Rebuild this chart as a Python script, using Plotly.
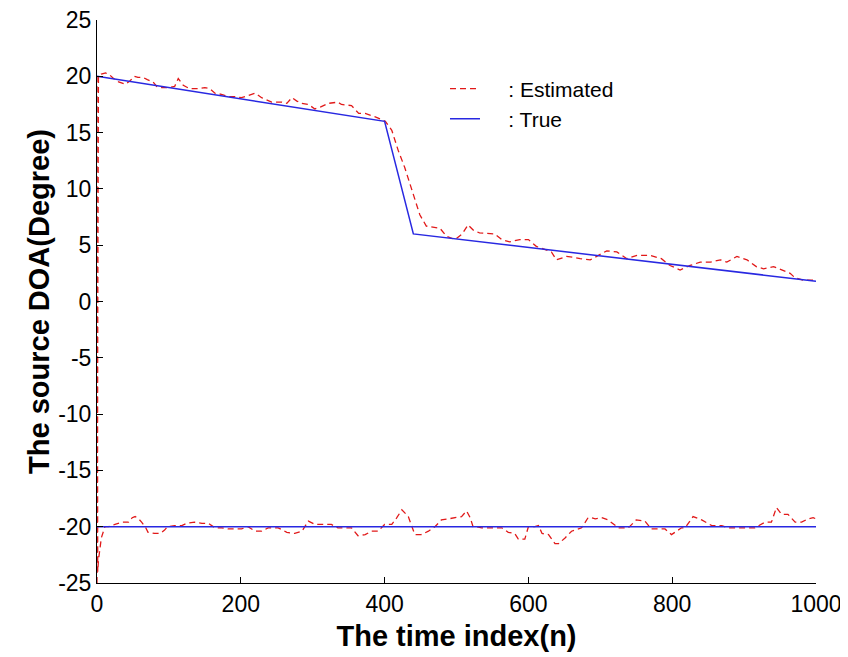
import plotly.graph_objects as go

# ---- data ----
est1_n = [0, 1, 2, 6, 12, 18, 23, 30, 40, 46, 52, 57, 64, 70, 78, 83, 90, 100, 108, 113,
          120, 129, 141, 150, 157, 164, 173, 183, 192, 201, 210, 220, 229, 243, 257, 264,
          271, 278, 285, 294, 303, 312, 322, 335, 340, 354, 364, 373, 387, 396, 401, 410,
          419, 428, 435, 442, 449, 458, 468, 477, 486, 498, 508, 516, 524, 532, 542, 553,
          563, 574, 588, 600, 611, 625, 632, 639, 653, 665, 672, 686, 697, 709, 723, 737,
          751, 769, 785, 797, 811, 825, 839, 853, 867, 876, 890, 904, 917, 927, 941, 952,
          964, 971, 982, 996, 1000]
est1_v = [-25, 17, 20, 20.2, 20.3, 20.1, 19.8, 19.5, 19.3, 19.6, 20.0, 19.9, 19.9, 19.7,
          19.5, 19.1, 19.0, 19.0, 19.1, 19.8, 19.2, 18.9, 18.9, 19.0, 18.9, 18.5, 18.4,
          18.2, 18.2, 18.1, 18.3, 18.5, 18.1, 17.7, 17.7, 17.6, 18.1, 17.8, 17.6, 17.5,
          17.1, 17.3, 17.6, 17.7, 17.5, 17.4, 16.7, 16.7, 16.4, 16.1, 16.0, 15.2, 13.4,
          11.9, 10.5, 9.0, 7.7, 6.7, 6.6, 6.5, 5.8, 5.5, 6.0, 6.8, 6.3, 6.1, 6.05, 6.0,
          5.5, 5.3, 5.5, 5.5, 4.9, 4.6, 4.4, 3.7, 4.0, 3.9, 3.8, 3.7, 4.1, 4.5, 4.4, 3.8,
          4.1, 4.1, 3.8, 3.2, 2.8, 3.2, 3.5, 3.5, 3.7, 3.5, 4.0, 3.7, 3.1, 2.9, 3.1, 2.8,
          2.5, 2.1, 1.9, 1.9, 1.8]

est2_n = [0, 1, 2, 4, 6, 11, 16, 25, 34, 44, 49, 53, 58, 62, 67, 71, 80, 88, 94, 98, 108,
          118, 125, 136, 146, 155, 164, 173, 183, 192, 201, 210, 220, 229, 238, 252, 264,
          275, 285, 294, 303, 315, 326, 335, 354, 363, 373, 382, 391, 400, 410, 417, 424,
          433, 442, 451, 461, 470, 479, 489, 498, 507, 514, 519, 523, 528, 535, 550, 563,
          572, 581, 586, 595, 600, 609, 614, 619, 628, 637, 642, 651, 660, 674, 683, 688,
          693, 702, 711, 725, 739, 750, 762, 771, 790, 799, 813, 818, 829, 841, 855, 869,
          878, 887, 901, 915, 929, 938, 945, 952, 961, 971, 980, 989, 996, 1000]
est2_v = [20, -24, -23, -22, -21, -20, -20, -19.8, -19.6, -19.6, -19.2, -19.1, -19.3,
          -19.6, -20.0, -20.5, -20.6, -20.6, -20.3, -20.0, -19.9, -19.9, -19.7, -19.6,
          -19.7, -19.7, -20.1, -20.1, -20.2, -20.2, -20.2, -20.0, -20.4, -20.4, -20.1,
          -20.1, -20.5, -20.6, -20.4, -19.5, -19.8, -19.8, -19.8, -20.1, -20.1, -20.8,
          -20.7, -20.4, -20.4, -19.8, -19.8, -19.2, -18.5, -19.1, -20.7, -20.7, -20.4,
          -20.0, -19.4, -19.3, -19.2, -19.1, -18.6, -19.2, -20.0, -20.0, -20.1, -20.1,
          -20.1, -20.5, -20.6, -21.1, -21.1, -20.0, -20.0, -19.9, -20.6, -20.7, -21.5,
          -21.5, -21.0, -20.4, -20.1, -19.2, -19.2, -19.3, -19.2, -19.4, -20.1, -20.1,
          -19.4, -19.5, -20.2, -20.2, -20.7, -20.1, -20.1, -19.1, -19.4, -19.9, -19.9,
          -20.1, -20.1, -20.1, -20.1, -19.6, -19.6, -18.3, -18.9, -18.9, -19.6, -19.6,
          -19.3, -19.2, -19.3]

true1_n = [0, 400, 440, 1000]
true1_v = [20, 16, 6, 1.8]
true2_n = [0, 1000]
true2_v = [-20, -20]

x_ticks = [0, 200, 400, 600, 800, 1000]
y_ticks = [-25, -20, -15, -10, -5, 0, 5, 10, 15, 20, 25]
y_tick_labels = ["-25", "-20", "-15", "-10", "-5", "0", "5", "10", "15", "20", "25"]

RED = "rgb(225,25,25)"
BLUE = "rgb(40,40,225)"
FONT = "Liberation Sans, Arial, sans-serif"
NB = "\u00a0"

fig = go.Figure()
fig.add_trace(go.Scatter(x=est1_n, y=est1_v, mode="lines", name=NB * 4 + ": Estimated",
                         line=dict(color=RED, width=1.3, dash="6px,4px"),
                         legendgroup="est", showlegend=True))
fig.add_trace(go.Scatter(x=est2_n, y=est2_v, mode="lines", name="est2",
                         line=dict(color=RED, width=1.3, dash="6px,4px"),
                         legendgroup="est", showlegend=False))
fig.add_trace(go.Scatter(x=true1_n, y=true1_v, mode="lines", name=NB * 4 + ": True",
                         line=dict(color=BLUE, width=1.5),
                         legendgroup="true", showlegend=True))
fig.add_trace(go.Scatter(x=true2_n, y=true2_v, mode="lines", name="true2",
                         line=dict(color=BLUE, width=1.5),
                         legendgroup="true", showlegend=False))

# page body has an 8px margin: the figure is sized/offset so the axes land where
# they are in the reference window
fig.update_layout(
    width=840, height=649,
    margin=dict(l=89, r=32, t=12, b=74, autoexpand=False),
    paper_bgcolor="white", plot_bgcolor="white",
    font=dict(family=FONT, color="black", size=21),
    showlegend=True,
    legend=dict(x=0.484, y=0.914, xanchor="left", yanchor="top",
                bgcolor="rgba(0,0,0,0)", font=dict(size=21, family=FONT),
                tracegroupgap=0, itemwidth=30),
    xaxis=dict(range=[0, 1000], tickvals=x_ticks, showgrid=False, zeroline=False,
               showline=True, linecolor="black", linewidth=1, ticks="inside",
               ticklen=6, tickcolor="black", mirror=False, automargin=False,
               ticklabeloverflow="allow",
               tickfont=dict(size=23, family=FONT),
               title=dict(text="<b>The time index(n)</b>", font=dict(size=29, family=FONT),
                          standoff=10)),
    yaxis=dict(range=[-25, 25], tickvals=y_ticks, ticktext=y_tick_labels,
               showgrid=False, zeroline=False, showline=True, linecolor="black",
               linewidth=1, ticks="inside", ticklen=6, tickcolor="black", mirror=False,
               automargin=False, ticklabeloverflow="allow",
               tickfont=dict(size=23, family=FONT),
               title=dict(text="<b>The source DOA(Degree)</b>",
                          font=dict(size=29, family=FONT), standoff=0)),
)

fig.write_html("out.html")
